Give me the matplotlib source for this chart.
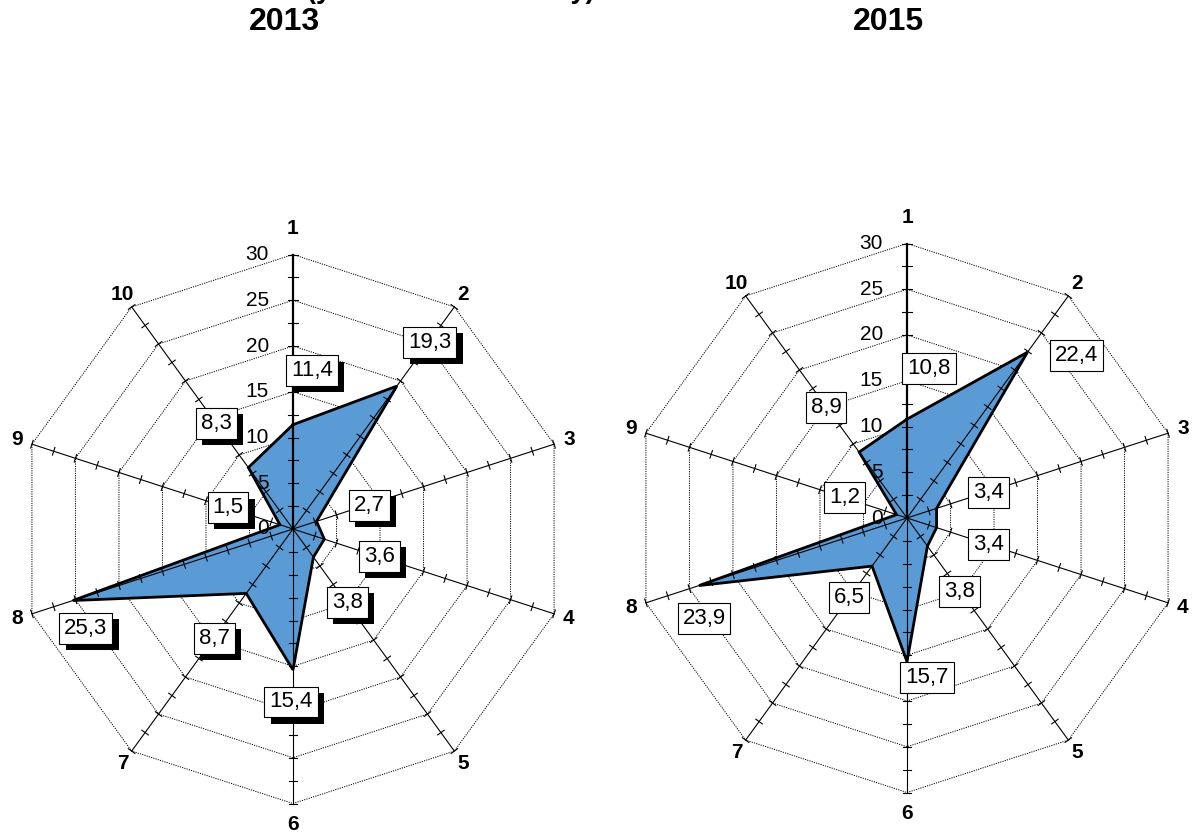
import numpy as np
import matplotlib.pyplot as plt
import matplotlib.patheffects as pe

plt.rcParams["font.family"] = ["Liberation Sans", "DejaVu Sans"]

# ------------------------------------------------------------
# Data
# ------------------------------------------------------------
categories = ["1", "2", "3", "4", "5", "6", "7", "8", "9", "10"]
values_2013 = [11.4, 19.3, 2.7, 3.6, 3.8, 15.4, 8.7, 25.3, 1.5, 8.3]
values_2015 = [10.8, 22.4, 3.4, 3.4, 3.8, 15.7, 6.5, 23.9, 1.2, 8.9]
value_ticks = [0, 5, 10, 15, 20, 25, 30]
titles = ["2013", "2015"]

# label offsets (pixels, x right / y down) from each point
offsets_2013 = [(19, -54), (33, -44), (53, -16), (55, 17), (34, 45),
                (-2, 32), (-32, 45), (13, 28), (-52, -17), (-32, -44)]
offsets_2015 = [(22, -51), (49, 3), (52, -16), (52, 17), (32, 45),
                (20, 16), (-23, 31), (5, 33), (-52, -17), (-33, -45)]

W, H = 1194, 835
R_PX = 274.5          # pixel length of the 30 ring
RMAX = 30
s = RMAX / R_PX       # data units per pixel

fig = plt.figure(figsize=(W / 100, H / 100), dpi=100)

# clipped title line at the very top
fig.text(451 / W, 1.0 + 2.5 / H, "(years of total activity)", ha="center", va="baseline",
         fontsize=19.5, fontweight="bold")


def radar(cx, cy, values, offsets, title, title_x, shadow):
    ax = fig.add_axes([0, 0, 1, 1])
    ax.set_xlim(-cx * s, (W - cx) * s)
    ax.set_ylim(-(H - cy) * s, cy * s)
    ax.axis("off")
    ax.patch.set_alpha(0)

    n = len(categories)
    theta = np.arange(n) * 2 * np.pi / n
    sx, cy_ = np.sin(theta), np.cos(theta)

    # grid rings
    for lvl in value_ticks[1:]:
        xs = np.append(lvl * sx, lvl * sx[0])
        ys = np.append(lvl * cy_, lvl * cy_[0])
        ax.plot(xs, ys, color="black", lw=0.7, ls=(0, (1.2, 1.2)), zorder=1)

    # data polygon
    v = np.array(values)
    px, py = v * sx, v * cy_
    ax.fill(px, py, color="#5B9BD5", zorder=2)
    ax.plot(np.append(px, px[0]), np.append(py, py[0]), color="black",
            lw=2.0, zorder=4, solid_joinstyle="miter")

    # spokes and ticks
    for k in range(n):
        lw = 1.6 if k == 0 else 0.8
        ax.plot([0, RMAX * sx[k]], [0, RMAX * cy_[k]], color="black", lw=lw, zorder=3)
        half = (5 if k == 0 else 4) * s
        for r in np.arange(2.5, RMAX + 0.1, 2.5):
            x0, y0 = r * sx[k], r * cy_[k]
            ax.plot([x0 - half * cy_[k], x0 + half * cy_[k]],
                    [y0 + half * sx[k], y0 - half * sx[k]],
                    color="black", lw=0.8, zorder=3)

    # value axis labels
    for t in value_ticks:
        ax.text(-24 * s, t, str(t), ha="right", va="center", fontsize=15, zorder=5)

    # category labels
    for k, lab in enumerate(categories):
        rl = 31.7
        if cy_[k] > 0.99:
            rl += 1.1
        elif cy_[k] < -0.99:
            rl += 0.6
        ax.text(rl * sx[k], rl * cy_[k], lab, ha="center", va="center",
                fontsize=15, fontweight="bold", zorder=5)

    # data labels
    for k, val in enumerate(values):
        dx, dy = offsets[k]
        t = ax.text(px[k] + dx * s, py[k] - dy * s, f"{val:.1f}".replace(".", ","),
                    ha="center", va="center", fontsize=16, zorder=6,
                    bbox=dict(boxstyle="square,pad=0.22", fc="white", ec="black", lw=0.8))
        if shadow:
            t.get_bbox_patch().set_path_effects([
                pe.SimplePatchShadow(offset=(4.5, -4.5), shadow_rgbFace="black", alpha=1.0),
                pe.Normal()])

    fig.text(title_x / W, 1 - 22 / H, title, ha="center", va="center",
             fontsize=23, fontweight="bold")


radar(293, 529, values_2013, offsets_2013, titles[0], 284, shadow=True)
radar(907, 518, values_2015, offsets_2015, titles[1], 888, shadow=False)

fig.savefig("out.png", dpi=100)
